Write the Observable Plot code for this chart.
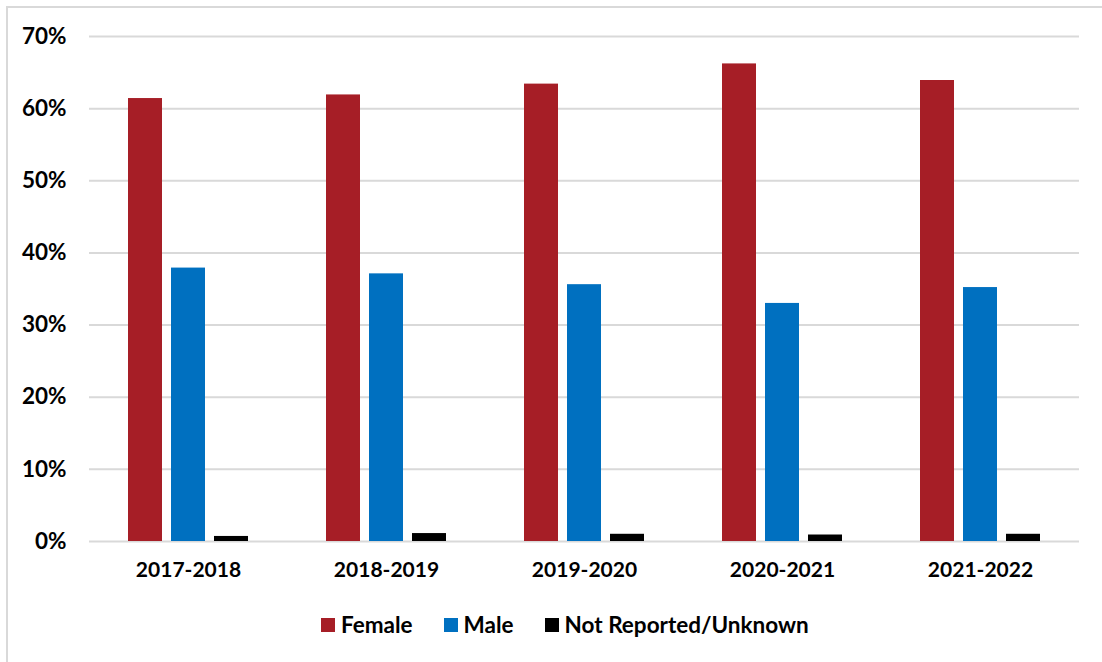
<!DOCTYPE html>
<html>
<head>
<meta charset="utf-8">
<script src="https://cdn.jsdelivr.net/npm/d3@7"></script>
<script src="https://cdn.jsdelivr.net/npm/@observablehq/plot@0.6"></script>
<style>
  html, body { margin: 0; padding: 0; background: #fff; }
  body { width: 1102px; height: 662px; overflow: hidden; position: relative; font-family: Lato, "Open Sans", sans-serif; }
  #frame { position: absolute; left: 6px; top: 6px; width: 1200px; height: 800px; border: 2px solid #d9d9d9; box-sizing: border-box; }
  #chart { position: absolute; left: 0; top: 0; }
  #legend { position: absolute; left: 321px; top: 611px; display: flex; align-items: center; font-weight: 700; font-size: 22.5px; color: #000; }
  .item { display: flex; align-items: center; margin-right: 31px; }
  .sw { width: 14px; height: 14px; margin-right: 6px; }
</style>
</head>
<body>
<div id="frame"></div>
<div id="chart"></div>
<div id="legend"></div>
<script>
// School years along the bottom axis
const years = ["2017-2018", "2018-2019", "2019-2020", "2020-2021", "2021-2022"];
// Gender groups shown side by side within each year
const genders = ["Female", "Male", "Not Reported/Unknown"];
const genderColors = ["#a61e26", "#0070c0", "#000000"];
// Share of students (fraction) per year, one list per gender
const female = [0.614, 0.619, 0.634, 0.662, 0.639];
const male = [0.379, 0.371, 0.356, 0.330, 0.352];
const notReported = [0.007, 0.011, 0.010, 0.009, 0.010];
// Value axis ticks
const yTicks = [0, 0.1, 0.2, 0.3, 0.4, 0.5, 0.6, 0.7];

const series = [female, male, notReported];
const rows = [];
years.forEach((year, i) => {
  genders.forEach((g, j) => rows.push({year, gender: g, value: series[j][i]}));
});

const plot = Plot.plot({
  width: 1102,
  height: 580,
  marginLeft: 88,
  marginRight: 22,
  marginTop: 36,
  marginBottom: 39,
  style: {fontFamily: "Lato, 'Open Sans', sans-serif", fontWeight: 700, fontSize: "21px", color: "#000", background: "transparent"},
  fx: {domain: years, padding: 0, label: null, axis: "bottom", tickSize: 0, tickPadding: 21},
  x: {domain: genders, axis: null, paddingInner: 0.2, paddingOuter: 0.86},
  y: {domain: [0, 0.7], label: null},
  color: {domain: genders, range: genderColors},
  marks: [
    Plot.gridY(yTicks, {stroke: "#d9d9d9", strokeOpacity: 1, strokeWidth: 2}),
    Plot.axisY(yTicks, {tickFormat: d3.format(".0%"), tickSize: 0, tickPadding: 23, fontSize: 22.5, label: null}),
    Plot.barY(rows, {fx: "year", x: "gender", y: "value", fill: "gender"})
  ]
});
document.getElementById("chart").append(plot);

// Legend swatches drawn from the plot's own color scale
const color = plot.scale("color");
const legend = document.getElementById("legend");
color.domain.forEach((g, i) => {
  const item = document.createElement("div");
  item.className = "item";
  const sw = document.createElement("div");
  sw.className = "sw";
  sw.style.background = color.range[i];
  const label = document.createElement("span");
  label.textContent = g;
  item.append(sw, label);
  legend.append(item);
});
</script>
</body>
</html>
